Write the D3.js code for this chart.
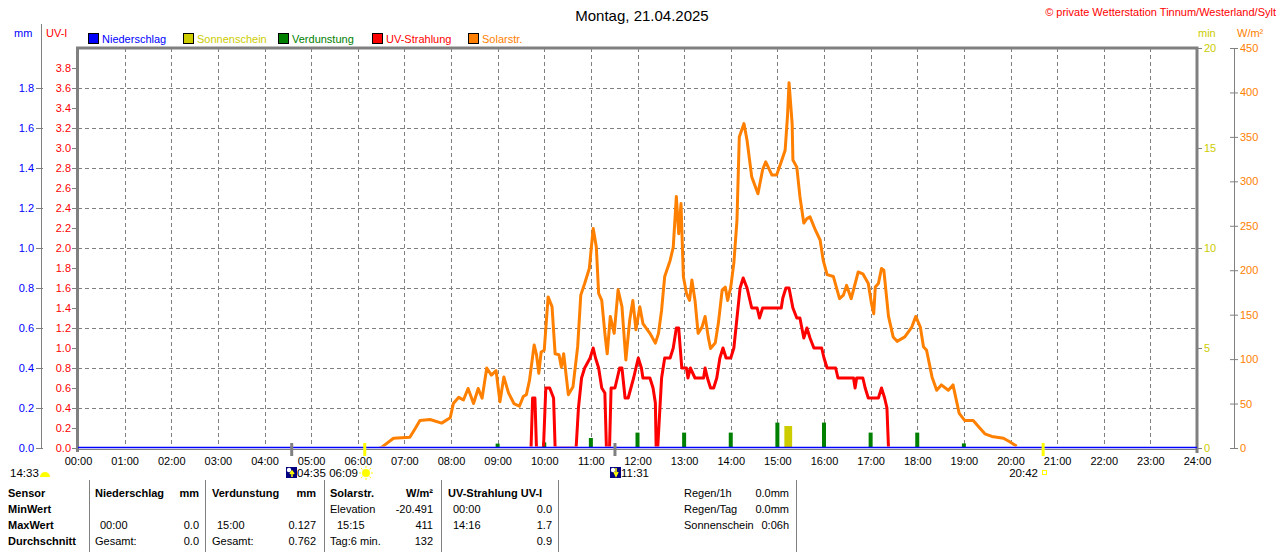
<!DOCTYPE html>
<html>
<head>
<meta charset="utf-8">
<script src="https://cdn.jsdelivr.net/npm/d3@7"></script>
<style>
  body { margin: 0; background: #fff; }
  svg { display: block; font-family: "Liberation Sans", Arial, sans-serif; font-size: 11px; }
</style>
</head>
<body>
<div id="chart"></div>
<script>
// Solar radiation (W/m²)
const solarTime = ["06:28","06:31","06:46","07:07","07:14","07:20","07:33","07:48","07:59","08:03","08:10","08:16","08:22","08:29","08:35","08:40","08:46","08:52","08:58","09:03","09:08","09:14","09:21","09:28","09:33","09:37","09:41","09:47","09:50","09:53","09:56","10:00","10:05","10:10","10:14","10:19","10:22","10:25","10:31","10:37","10:43","10:47","10:52","10:58","11:03","11:07","11:10","11:14","11:18","11:21","11:25","11:30","11:35","11:40","11:45","11:50","11:54","11:58","12:03","12:07","12:16","12:23","12:27","12:31","12:35","12:42","12:46","12:50","12:53","12:56","12:59","13:03","13:07","13:10","13:14","13:18","13:23","13:27","13:31","13:34","13:40","13:44","13:49","13:53","13:56","14:00","14:04","14:08","14:11","14:17","14:21","14:27","14:35","14:41","14:45","14:53","14:59","15:05","15:10","15:13","15:15","15:19","15:20","15:25","15:29","15:34","15:38","15:42","15:49","15:55","15:59","16:04","16:12","16:20","16:25","16:29","16:35","16:44","16:50","16:57","17:01","17:04","17:06","17:10","17:14","17:17","17:23","17:29","17:34","17:44","17:53","17:58","18:04","18:08","18:12","18:19","18:25","18:31","18:40","18:46","18:54","19:01","19:12","19:19","19:27","19:36","19:51","19:59","20:08"];
const solarValue = [0,1,11,12,22,31,32,28,34,50,57,54,67,50,67,56,90,82,87,52,80,62,50,47,58,60,76,116,105,84,108,110,170,159,106,105,91,106,60,69,114,172,185,202,247,226,174,166,129,106,148,129,178,159,99,144,166,133,159,140,129,118,129,155,193,211,226,283,241,275,193,174,166,189,166,129,136,148,125,112,118,140,178,181,166,181,208,256,350,365,346,305,286,313,322,307,307,322,335,373,411,365,324,316,283,253,258,260,245,234,211,195,193,168,172,183,168,198,196,185,163,151,181,185,202,200,148,125,120,125,136,148,136,114,110,80,65,71,65,71,39,31,31,24,16,13,11,7,2];

// UV index
const uvTime = ["09:43","09:45","09:48","09:50","09:59","10:02","10:07","10:12","10:14","10:41","10:44","10:48","10:52","10:59","11:03","11:06","11:10","11:14","11:18","11:20","11:24","11:26","11:31","11:37","11:40","11:44","11:48","11:55","12:01","12:05","12:07","12:16","12:20","12:23","12:24","12:26","12:31","12:35","12:42","12:46","12:50","12:53","12:55","12:57","13:03","13:05","13:08","13:14","13:25","13:27","13:30","13:34","13:38","13:42","13:46","13:50","13:54","14:00","14:04","14:08","14:12","14:16","14:21","14:27","14:34","14:37","14:41","15:05","15:07","15:11","15:15","15:20","15:25","15:29","15:34","15:38","15:42","15:47","15:57","16:00","16:04","16:15","16:18","16:38","16:40","16:42","16:50","16:53","16:57","17:10","17:14","17:18","17:21","17:23"];
const uvValue = [0,0.5,0.5,0,0,0.6,0.6,0.5,0,0,0.4,0.7,0.8,0.9,1.0,0.9,0.8,0.6,0.55,0,0,0.6,0.6,0.8,0.8,0.5,0.5,0.7,0.9,0.8,0.7,0.7,0.6,0.45,0,0,0.7,0.9,0.9,1.0,1.2,1.2,1.0,0.8,0.8,0.7,0.8,0.7,0.7,0.8,0.7,0.6,0.6,0.7,0.9,1.0,0.9,0.9,1.0,1.3,1.6,1.7,1.6,1.4,1.4,1.3,1.4,1.4,1.5,1.6,1.6,1.4,1.3,1.3,1.1,1.2,1.1,1.0,1.0,0.9,0.8,0.8,0.7,0.7,0.6,0.7,0.7,0.6,0.5,0.5,0.6,0.5,0.4,0];

// Evaporation per hour (mm)
const evapHour = [9,10,11,12,13,14,15,16,17,18,19];
const evapValue = [0.022,0.028,0.05,0.077,0.077,0.077,0.127,0.127,0.077,0.077,0.023];

// Sunshine (min)
const sunStart = ["15:09"];
const sunEnd = ["15:19"];
const sunMinutes = [1.1];

// Axis ticks
const mmTicks = [0,0.2,0.4,0.6,0.8,1.0,1.2,1.4,1.6,1.8];
const uvTicks = d3.range(0, 39, 2).map(d => d / 10);
const minTicks = [0,5,10,15,20];
const wTicks = [0,50,100,150,200,250,300,350,400,450];
const hourTicks = d3.range(0, 25);

// Legend
const legendNames = ["Niederschlag","Sonnenschein","Verdunstung","UV-Strahlung","Solarstr."];
const legendColors = ["#0000ff","#cccc00","#008000","#ff0000","#ff8000"];

// Table below the chart
const tableRows = ["Sensor","MinWert","MaxWert","Durchschnitt"];
const precipCol = [["Niederschlag","mm"],["",""],["00:00","0.0"],["Gesamt:","0.0"]];
const evapCol = [["Verdunstung","mm"],["",""],["15:00","0.127"],["Gesamt:","0.762"]];
const solarCol = [["Solarstr.","W/m²"],["Elevation","-20.491"],["15:15","411"],["Tag:6 min.","132"]];
const uvCol = [["UV-Strahlung UV-I",""],["00:00","0.0"],["14:16","1.7"],["","0.9"]];
const infoCol = [["Regen/1h","0.0mm"],["Regen/Tag","0.0mm"],["Sonnenschein","0:06h"]];

(function() {
    const hm = s => { const p = s.split(":").map(Number); return p[0] + p[1] / 60; };

    const W = 1280, H = 552;
    const pL = 78, pR = 1197, pT = 48, pB = 448;
    const font = "Liberation Sans, Arial";

    const svg = d3.select("#chart").append("svg")
        .attr("width", W).attr("height", H);

    // clip so that the zero parts of the UV line hide under the baseline
    svg.append("clipPath").attr("id", "above0")
        .append("rect").attr("x", pL).attr("y", pT).attr("width", pR - pL).attr("height", pB - pT - 1.5);

    const x = d3.scaleLinear().domain([0, 24]).range([pL, pR]);
    const yMM = d3.scaleLinear().domain([0, 2]).range([pB, pT]);
    const yUV = d3.scaleLinear().domain([0, 4]).range([pB, pT]);
    const ySun = d3.scaleLinear().domain([0, 20]).range([pB, pT]);
    const ySolar = d3.scaleLinear().domain([0, 450]).range([pB, pT]);

    // grid
    const grid = svg.append("g").attr("stroke", "#808080").attr("stroke-dasharray", "4,3");
    grid.selectAll(".gx").data(hourTicks.slice(1, 24)).enter().append("line")
        .attr("x1", d => Math.round(x(d)) + 0.5).attr("x2", d => Math.round(x(d)) + 0.5)
        .attr("y1", pT).attr("y2", pB);
    grid.selectAll(".gy").data(d3.range(0.4, 4, 0.4)).enter().append("line")
        .attr("x1", pL).attr("x2", pR)
        .attr("y1", d => Math.round(yUV(d)) + 0.5).attr("y2", d => Math.round(yUV(d)) + 0.5);

    // left mm axis
    const mmAxis = svg.append("g").attr("transform", "translate(41,0)")
        .call(d3.axisLeft(yMM).tickValues(mmTicks).tickFormat(d3.format(".1f")).tickSizeInner(5).tickSizeOuter(0).tickPadding(2));
    mmAxis.select(".domain").attr("stroke", "#808080").attr("d", `M0.5,${pT - 24}V${pB + 1}`);
    mmAxis.selectAll(".tick line").attr("stroke", "#808080").attr("x2", 2).attr("x1", -5);
    mmAxis.selectAll("text").attr("fill", "#0000ff").style("font-size", "11px").style("font-family", font);

    // left UV axis
    const uvAxis = svg.append("g").attr("transform", `translate(${pL - 1},0)`)
        .call(d3.axisLeft(yUV).tickValues(uvTicks).tickFormat(d3.format(".1f")).tickSizeInner(5).tickSizeOuter(0).tickPadding(1));
    uvAxis.select(".domain").remove();
    uvAxis.selectAll(".tick line").attr("stroke", "#808080");
    uvAxis.selectAll("text").attr("fill", "#ff0000").style("font-size", "11px").style("font-family", font);

    // right sunshine min axis
    const minAxis = svg.append("g").attr("transform", `translate(${pR},0)`)
        .call(d3.axisRight(ySun).tickValues(minTicks).tickSizeInner(5).tickSizeOuter(0).tickPadding(2));
    minAxis.select(".domain").remove();
    minAxis.selectAll(".tick line").attr("stroke", "#808080");
    minAxis.selectAll("text").attr("fill", "#cccc00").style("font-size", "11px").style("font-family", font);

    // right W/m² axis
    const wAxis = svg.append("g").attr("transform", "translate(1234,0)")
        .call(d3.axisRight(ySolar).tickValues(wTicks).tickSizeInner(4).tickSizeOuter(0).tickPadding(2));
    wAxis.select(".domain").attr("stroke", "#808080");
    wAxis.selectAll(".tick line").attr("stroke", "#808080").attr("x1", -4);
    wAxis.selectAll("text").attr("fill", "#ff8000").style("font-size", "11px").style("font-family", font);

    // x axis
    const xAxis = svg.append("g").attr("transform", `translate(0,${pB})`)
        .call(d3.axisBottom(x).tickValues(hourTicks).tickFormat(d => String(d).padStart(2, "0") + ":00").tickSize(0).tickPadding(9));
    xAxis.select(".domain").remove();
    xAxis.selectAll("text").attr("fill", "#000").style("font-size", "11px").style("font-family", font);

    // frame
    svg.append("line").attr("x1", pL).attr("x2", pR).attr("y1", pB + 1.5).attr("y2", pB + 1.5)
        .attr("stroke", "#808080").attr("stroke-width", 1);
    svg.append("path")
        .attr("d", `M${pL - 0.5},${pB + 4}V${pT}H${pR}V${pB + 5}`)
        .attr("fill", "none").attr("stroke", "#808080").attr("stroke-width", 3);

    // sunshine bars
    svg.selectAll(".sun").data(sunStart).enter().append("rect")
        .attr("x", d => x(hm(d)))
        .attr("width", (d, i) => x(hm(sunEnd[i])) - x(hm(d)))
        .attr("y", (d, i) => ySun(sunMinutes[i]))
        .attr("height", (d, i) => pB - ySun(sunMinutes[i]))
        .attr("fill", "#cccc00");

    // evaporation bars
    svg.selectAll(".evap").data(evapHour).enter().append("rect")
        .attr("x", d => x(d) - 2)
        .attr("width", 4)
        .attr("y", (d, i) => yMM(evapValue[i]))
        .attr("height", (d, i) => pB - yMM(evapValue[i]))
        .attr("fill", "#008000");

    // solar line
    const solarPts = solarTime.map((t, i) => [hm(t), solarValue[i]]);
    svg.append("path").datum(solarPts)
        .attr("clip-path", "url(#above0)")
        .attr("d", d3.line().x(d => x(d[0])).y(d => ySolar(d[1])))
        .attr("fill", "none").attr("stroke", "#ff8000").attr("stroke-width", 3).attr("stroke-linejoin", "round");

    // UV line
    const uvPts = uvTime.map((t, i) => [hm(t), uvValue[i]]);
    svg.append("path").datum(uvPts)
        .attr("clip-path", "url(#above0)")
        .attr("d", d3.line().x(d => x(d[0])).y(d => yUV(d[1])))
        .attr("fill", "none").attr("stroke", "#ff0000").attr("stroke-width", 3).attr("stroke-linejoin", "round");

    // precipitation (zero) line
    svg.append("line").attr("x1", pL).attr("x2", pR).attr("y1", yMM(0) - 0.5).attr("y2", yMM(0) - 0.5)
        .attr("stroke", "#0000ff").attr("stroke-width", 1.5);

    // sunrise/sunset + moon ticks
    const markers = [
        { t: "04:35", c: "#808080" },
        { t: "06:09", c: "#ffff00" },
        { t: "11:31", c: "#808080" },
        { t: "20:42", c: "#ffff00" }
    ];
    svg.selectAll(".mk").data(markers).enter().append("line")
        .attr("x1", d => x(hm(d.t))).attr("x2", d => x(hm(d.t)))
        .attr("y1", 443).attr("y2", 456)
        .attr("stroke", d => d.c).attr("stroke-width", 3);

    // marker labels
    const ml = svg.append("g").style("font-size", "11.5px");
    ml.append("text").attr("x", 10).attr("y", 477).text("14:33");
    ml.append("path").attr("d", "M40,477a5,5 0 0 1 10,0z").attr("fill", "#ffff00");
    function moonIcon(x0, up) {
        const g = ml.append("g").attr("transform", `translate(${x0},467)`);
        g.append("rect").attr("width", 11).attr("height", 11).attr("fill", "#000080");
        g.append("circle").attr("cx", 3).attr("cy", 3).attr("r", 2.2).attr("fill", "#fff");
        g.append("path").attr("d", up ? "M6,10V5M4,7L6,4L8,7" : "M6,1V7M4,5L6,9L8,5")
            .attr("stroke", "#ffff00").attr("stroke-width", 1.5).attr("fill", "none");
    }
    moonIcon(286, true);
    ml.append("text").attr("x", 297).attr("y", 477).text("04:35");
    ml.append("text").attr("x", 358).attr("y", 477).attr("text-anchor", "end").text("06:09");
    const sunG = ml.append("g").attr("transform", "translate(366,473)");
    sunG.append("circle").attr("r", 4).attr("fill", "#ffff00");
    sunG.selectAll("line").data(d3.range(8)).enter().append("line")
        .attr("x1", d => 5 * Math.cos(d * Math.PI / 4)).attr("y1", d => 5 * Math.sin(d * Math.PI / 4))
        .attr("x2", d => 7 * Math.cos(d * Math.PI / 4)).attr("y2", d => 7 * Math.sin(d * Math.PI / 4))
        .attr("stroke", "#ffff00").attr("stroke-width", 1);
    moonIcon(610, false);
    ml.append("text").attr("x", 621).attr("y", 477).text("11:31");
    ml.append("text").attr("x", 1038).attr("y", 477).attr("text-anchor", "end").text("20:42");
    ml.append("rect").attr("x", 1042.5).attr("y", 470.5).attr("width", 4).attr("height", 4)
        .attr("fill", "none").attr("stroke", "#ffff00");

    // title and copyright
    svg.append("text").attr("x", 642).attr("y", 21).attr("text-anchor", "middle")
        .style("font-size", "15px").text("Montag, 21.04.2025");
    svg.append("text").attr("x", 1276).attr("y", 16).attr("text-anchor", "end")
        .attr("fill", "#ff0000").style("font-size", "11px").text("© private Wetterstation Tinnum/Westerland/Sylt");

    // unit labels
    svg.append("text").attr("x", 14).attr("y", 37).attr("fill", "#0000ff").text("mm");
    svg.append("text").attr("x", 46).attr("y", 37).attr("fill", "#ff0000").text("UV-I");
    svg.append("text").attr("x", 1198).attr("y", 37).attr("fill", "#cccc00").text("min");
    svg.append("text").attr("x", 1237).attr("y", 37).attr("fill", "#ff8000").text("W/m²");

    // legend
    const legendX = [88, 183, 278, 372, 468];
    const lg = svg.selectAll(".lg").data(legendNames).enter().append("g")
        .attr("transform", (d, i) => `translate(${legendX[i]},33)`);
    lg.append("rect").attr("x", 0.5).attr("y", 0.5).attr("width", 10).attr("height", 10)
        .attr("fill", (d, i) => legendColors[i]).attr("stroke", "#000");
    lg.append("text").attr("x", 14).attr("y", 9.5).attr("fill", (d, i) => legendColors[i]).text(d => d);

    // table
    const rowY = [497, 513, 529, 545];
    const tb = svg.append("g");
    tb.selectAll(".rl").data(tableRows).enter().append("text")
        .attr("x", 8).attr("y", (d, i) => rowY[i]).style("font-weight", "bold").text(d => d);
    [89, 205, 324, 441, 558, 796].forEach(xx => {
        tb.append("line").attr("x1", xx + 0.5).attr("x2", xx + 0.5).attr("y1", 480).attr("y2", 552).attr("stroke", "#808080");
    });
    function col(data, xl, xr, indent) {
        data.forEach((r, i) => {
            const bold = i === 0;
            const lx = (i >= 1 && i <= 2 && /\d\d:\d\d/.test(r[0])) ? xl + indent : xl;
            tb.append("text").attr("x", lx).attr("y", rowY[i]).style("font-weight", bold ? "bold" : null).text(r[0]);
            tb.append("text").attr("x", xr).attr("y", rowY[i]).attr("text-anchor", "end")
                .style("font-weight", bold ? "bold" : null).text(r[1]);
        });
    }
    col(precipCol, 95, 199, 5);
    col(evapCol, 212, 316, 5);
    col(solarCol, 330, 433, 7);
    col(uvCol, 448, 552, 5);
    infoCol.forEach((r, i) => {
        tb.append("text").attr("x", 684).attr("y", rowY[i]).text(r[0]);
        tb.append("text").attr("x", 789).attr("y", rowY[i]).attr("text-anchor", "end").text(r[1]);
    });
})();
</script>
</body>
</html>
